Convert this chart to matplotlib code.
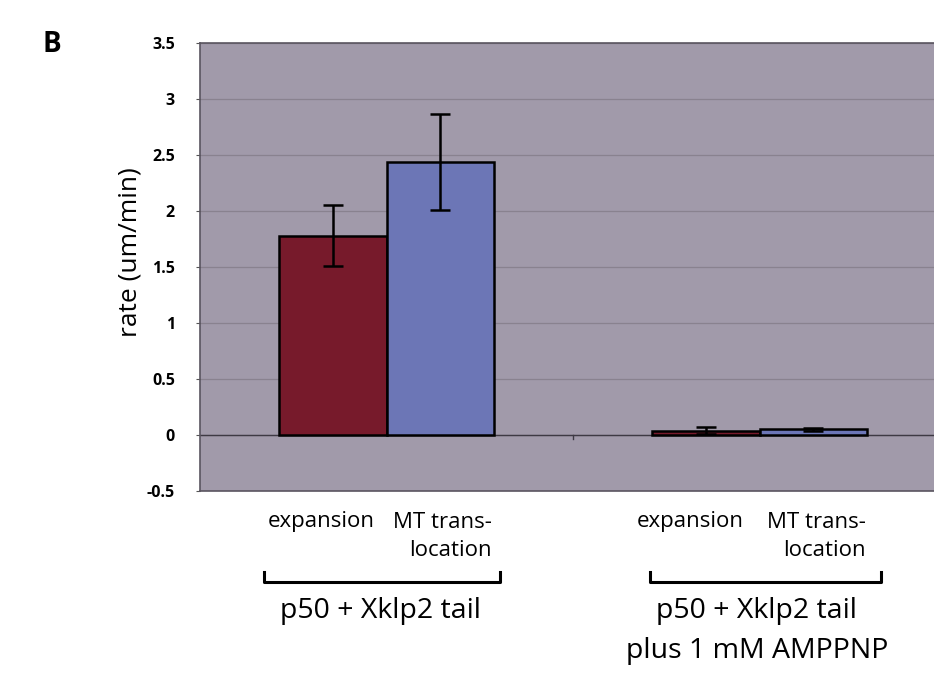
import matplotlib
matplotlib.use("Agg")
import matplotlib.pyplot as plt
import numpy as np

groups = ["p50 + Xklp2 tail", "p50 + Xklp2 tail\nplus 1 mM AMPPNP"]
series_names = ["expansion", "MT trans-\nlocation"]
expansion = [1.78, 0.04]
expansion_err = [0.27, 0.035]
transloc = [2.44, 0.05]
transloc_err = [0.43, 0.015]
yticks = [-0.5, 0, 0.5, 1, 1.5, 2, 2.5, 3, 3.5]

plt.rcParams['font.family'] = ['Open Sans', 'DejaVu Sans']

W, H = 934, 673
fig = plt.figure(figsize=(W/100, H/100), dpi=100)
fig.patch.set_facecolor('white')
ax = fig.add_axes([200/W, (H-491)/H, (946-200)/W, 448/H])
ax.set_facecolor('#a19aaa')

x = np.arange(len(groups))
bw = 0.287
ax.bar(x - bw/2, expansion, bw, color='#771a2b', edgecolor='black', linewidth=1.8,
       yerr=expansion_err, capsize=7, error_kw=dict(elinewidth=1.8, capthick=1.8, ecolor='black'), zorder=3)
ax.bar(x + bw/2, transloc, bw, color='#6c76b6', edgecolor='black', linewidth=1.8,
       yerr=transloc_err, capsize=7, error_kw=dict(elinewidth=1.8, capthick=1.8, ecolor='black'), zorder=3)

ax.set_xlim(-0.5, 1.5)
ax.set_ylim(-0.5, 3.5)
ax.set_yticks(yticks)
ax.set_yticklabels([("%g" % v) for v in yticks], fontsize=11.5, fontweight='bold')
ax.yaxis.grid(True, color='#89828f', linewidth=0.9, zorder=0)
ax.set_axisbelow(True)
ax.axhline(0, color='#3e3a44', linewidth=1.0, zorder=2)
ax.plot([0.5, 0.5], [0, -0.04], color='#3e3a44', linewidth=1.0, zorder=2)
ax.set_xticks([])
ax.tick_params(axis='y', length=3, color='#555', pad=15)
for s in ['left', 'bottom', 'top']:
    ax.spines[s].set_color('#5a5560')
    ax.spines[s].set_linewidth(1.2)
ax.spines['right'].set_visible(False)
ax.set_ylabel("rate (um/min)", fontsize=19)
ax.yaxis.set_label_coords(-0.077, 0.533)

def ptxt(px, py, s, **kw):
    fig.text(px/W, 1 - py/H, s, **kw)

fs_small = 16
fs_big = 20.5
exp_x = [321, 690]
mt_right = [492, 866]
br = [(264, 500), (650, 881)]
gcent = [380, 757]
for i in range(2):
    ptxt(exp_x[i], 522, series_names[0], ha='center', va='center', fontsize=fs_small)
    for j, line in enumerate(series_names[1].split('\n')):
        ptxt(mt_right[i], 522 + 28*j, line, ha='right', va='center', fontsize=fs_small)
    x0, x1 = br[i]
    fig.add_artist(plt.Line2D([x0/W, x0/W, x1/W, x1/W],
                              [1-572/H, 1-582/H, 1-582/H, 1-572/H],
                              color='black', linewidth=2.2, transform=fig.transFigure))
    for j, line in enumerate(groups[i].split('\n')):
        ptxt(gcent[i], 611 + 40*j, line, ha='center', va='center', fontsize=fs_big)

ptxt(52, 45, "B", ha='center', va='center', fontsize=20, fontweight='bold')

fig.savefig("out.png", dpi=100)
